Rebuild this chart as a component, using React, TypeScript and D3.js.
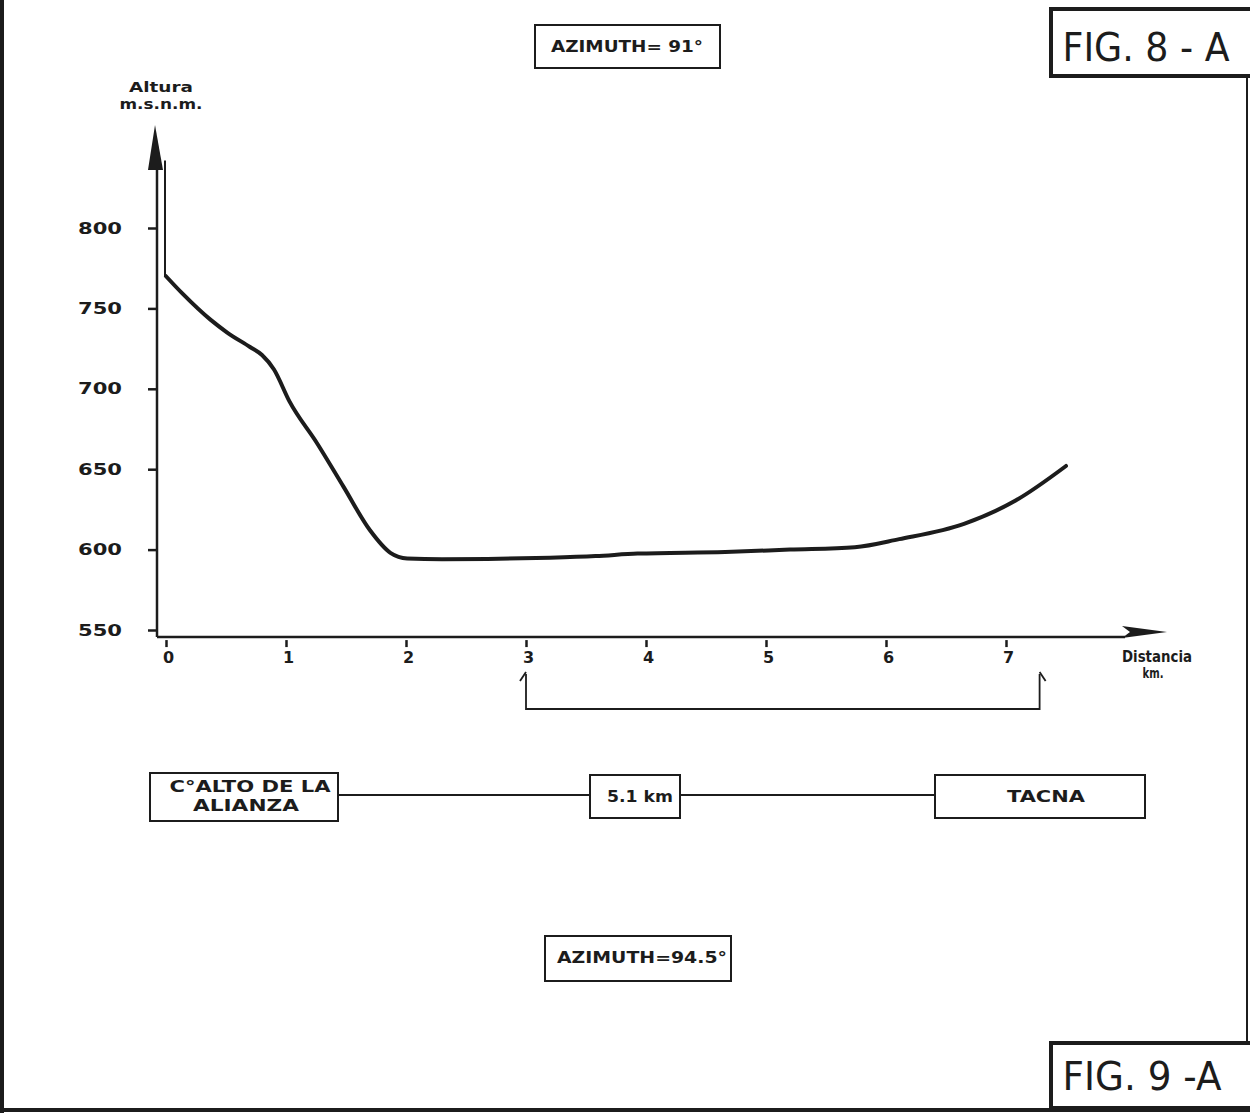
import { useEffect, useRef } from "react";
import * as d3 from "d3";

// profile (km, m.s.n.m.)
const distances = [0, 0.14, 0.37, 0.51, 0.7, 0.8, 0.9, 1.03, 1.26, 1.48, 1.7, 1.87, 2.01, 2.3, 2.68, 3.2, 3.58, 3.93, 4.66, 5.2, 5.74, 6.11, 6.65, 7.08, 7.5];
const heights = [770, 759, 743, 735, 726, 721, 712, 692, 666, 639, 612, 598, 594.5, 594, 594.2, 595, 596, 597.5, 598.5, 600, 601.5, 606.5, 616, 630.5, 652];

const yTicks = [550, 600, 650, 700, 750, 800];
const xTicks = [0, 1, 2, 3, 4, 5, 6, 7];
const towerTop = 842;
const bracketFrom = 3;
const bracketTo = 7.28;

const siteA = ["C°ALTO DE LA", "ALIANZA"];
const siteB = "TACNA";
const linkLength = "5.1 km";
const azimuthA = "AZIMUTH= 91°";
const azimuthB = "AZIMUTH=94.5°";
const figTop = "FIG. 8 - A";
const figBottom = "FIG. 9 -A";

const W = 1250;
const H = 1113;
const INK = "#1c1c1c";
const FONT = "'DejaVu Sans', Verdana, sans-serif";

export default function App() {
  const svgRef = useRef<SVGSVGElement | null>(null);

  useEffect(() => {
    if (!svgRef.current) return;
    const svg = d3.select(svgRef.current);
    svg.selectAll("*").remove();

    const x = d3.scaleLinear().domain([0, 7]).range([166, 1006]);
    const y = d3.scaleLinear().domain([550, 800]).range([630, 228]);

    const axisX = x(-0.075);
    const axisY = y(545.6);

    const label = (
      tx: number,
      ty: number,
      str: string,
      size: number,
      len: number | null,
      weight = "bold",
      anchor = "middle"
    ) => {
      const t = svg
        .append("text")
        .attr("x", tx)
        .attr("y", ty)
        .attr("text-anchor", anchor)
        .attr("dominant-baseline", "central")
        .attr("font-family", FONT)
        .attr("font-size", size)
        .attr("font-weight", weight)
        .attr("fill", INK)
        .text(str);
      if (len) t.attr("textLength", len).attr("lengthAdjust", "spacingAndGlyphs");
      return t;
    };

    const box = (x0: number, y0: number, x1: number, y1: number, sw = 2) =>
      svg
        .append("rect")
        .attr("x", x0)
        .attr("y", y0)
        .attr("width", x1 - x0)
        .attr("height", y1 - y0)
        .attr("fill", "white")
        .attr("stroke", INK)
        .attr("stroke-width", sw);

    // page frame
    svg.append("rect").attr("width", W).attr("height", H).attr("fill", "white");
    svg.append("line").attr("x1", 2).attr("x2", 2).attr("y1", 0).attr("y2", H).attr("stroke", INK).attr("stroke-width", 4);
    svg.append("line").attr("x1", 0).attr("x2", W).attr("y1", 1110).attr("y2", 1110).attr("stroke", INK).attr("stroke-width", 4);
    svg.append("line").attr("x1", 1247).attr("x2", 1247).attr("y1", 76).attr("y2", 1042).attr("stroke", INK).attr("stroke-width", 2);

    // axes
    svg.append("line")
      .attr("x1", axisX).attr("x2", axisX)
      .attr("y1", axisY).attr("y2", 166)
      .attr("stroke", INK).attr("stroke-width", 2.5);
    svg.append("path")
      .attr("d", `M${axisX - 2},125 L${axisX - 9},170 L${axisX + 6},170 Z`)
      .attr("fill", INK);

    svg.append("line")
      .attr("x1", axisX).attr("x2", 1125)
      .attr("y1", axisY).attr("y2", axisY)
      .attr("stroke", INK).attr("stroke-width", 2.5);
    svg.append("path")
      .attr("d", `M1167,${axisY - 5} L1122,${axisY - 11} L1130,${axisY - 5} L1122,${axisY + 1} Z`)
      .attr("fill", INK);

    const yAxis = svg
      .append("g")
      .attr("transform", `translate(${axisX},0)`)
      .call(d3.axisLeft(y).tickValues(yTicks).tickSize(9).tickPadding(26).tickFormat(d3.format("d")));
    yAxis.select(".domain").remove();
    yAxis.selectAll("line").attr("stroke", INK).attr("stroke-width", 2.5);
    yAxis.selectAll("text")
      .attr("font-family", FONT)
      .attr("font-size", 16)
      .attr("font-weight", "bold")
      .attr("fill", INK)
      .attr("textLength", 44)
      .attr("lengthAdjust", "spacingAndGlyphs");

    const xAxis = svg
      .append("g")
      .attr("transform", `translate(0,${axisY + 3})`)
      .call(d3.axisBottom(x).tickValues(xTicks).tickSize(7).tickPadding(5).tickFormat(d3.format("d")));
    xAxis.select(".domain").remove();
    xAxis.selectAll("line").attr("stroke", INK).attr("stroke-width", 2.5);
    xAxis.selectAll("text")
      .attr("font-family", FONT)
      .attr("font-size", 16)
      .attr("font-weight", "bold")
      .attr("fill", INK)
      .attr("dx", 2);

    // axis titles
    label(161, 87, "Altura", 14, 64);
    label(161, 104, "m.s.n.m.", 14, 83);
    label(1157, 657, "Distancia", 15, 70);
    label(1153, 673, "km.", 14, 21);

    // antenna mast at origin + terrain profile
    svg.append("line")
      .attr("x1", x(0) - 1).attr("x2", x(0) - 1)
      .attr("y1", y(heights[0])).attr("y2", y(towerTop))
      .attr("stroke", INK).attr("stroke-width", 2);

    const pts = distances.map((d, i) => [d, heights[i]] as [number, number]);
    const line = d3
      .line<[number, number]>()
      .x((d) => x(d[0]))
      .y((d) => y(d[1]))
      .curve(d3.curveMonotoneX);
    svg.append("path")
      .attr("d", line(pts))
      .attr("fill", "none")
      .attr("stroke", INK)
      .attr("stroke-width", 4)
      .attr("stroke-linecap", "round");

    // bracket under the axis
    const bTop = 674;
    const bBot = 709;
    svg.append("path")
      .attr("d", `M${x(bracketFrom)},${bTop} L${x(bracketFrom)},${bBot} L${x(bracketTo)},${bBot} L${x(bracketTo)},${bTop}`)
      .attr("fill", "none")
      .attr("stroke", INK)
      .attr("stroke-width", 1.8);
    svg.append("path")
      .attr("d", `M${x(bracketFrom) - 6},${bTop + 7} L${x(bracketFrom)},${bTop - 2}`)
      .attr("stroke", INK).attr("stroke-width", 1.8);
    svg.append("path")
      .attr("d", `M${x(bracketTo) + 6},${bTop + 7} L${x(bracketTo)},${bTop - 2}`)
      .attr("stroke", INK).attr("stroke-width", 1.8);

    // link diagram
    svg.append("line").attr("x1", 338).attr("x2", 935).attr("y1", 795).attr("y2", 795).attr("stroke", INK).attr("stroke-width", 1.8);
    box(150, 773, 338, 821);
    label(250, 787, siteA[0], 15, 161);
    label(246, 806, siteA[1], 15, 106);
    box(590, 775, 680, 818);
    label(640, 797, linkLength, 15, 66, "600");
    box(935, 775, 1145, 818);
    label(1046, 797, siteB, 15, 78, "600");

    // azimuth boxes
    box(535, 25, 720, 68);
    label(627, 47, azimuthA, 15, 152, "600");
    box(545, 936, 731, 981);
    label(642, 958, azimuthB, 15, 170, "600");

    // figure tags
    box(1051, 9, 1252, 76, 4);
    label(1146, 47, figTop, 39, 167, "normal");
    box(1051, 1043, 1252, 1108, 4);
    label(1142, 1076, figBottom, 39, 159, "normal");
  }, []);

  return (
    <div style={{ position: "absolute", left: 0, top: 0 }}>
      <svg ref={svgRef} width={W} height={H} viewBox={`0 0 ${W} ${H}`} style={{ display: "block" }}></svg>
    </div>
  );
}
